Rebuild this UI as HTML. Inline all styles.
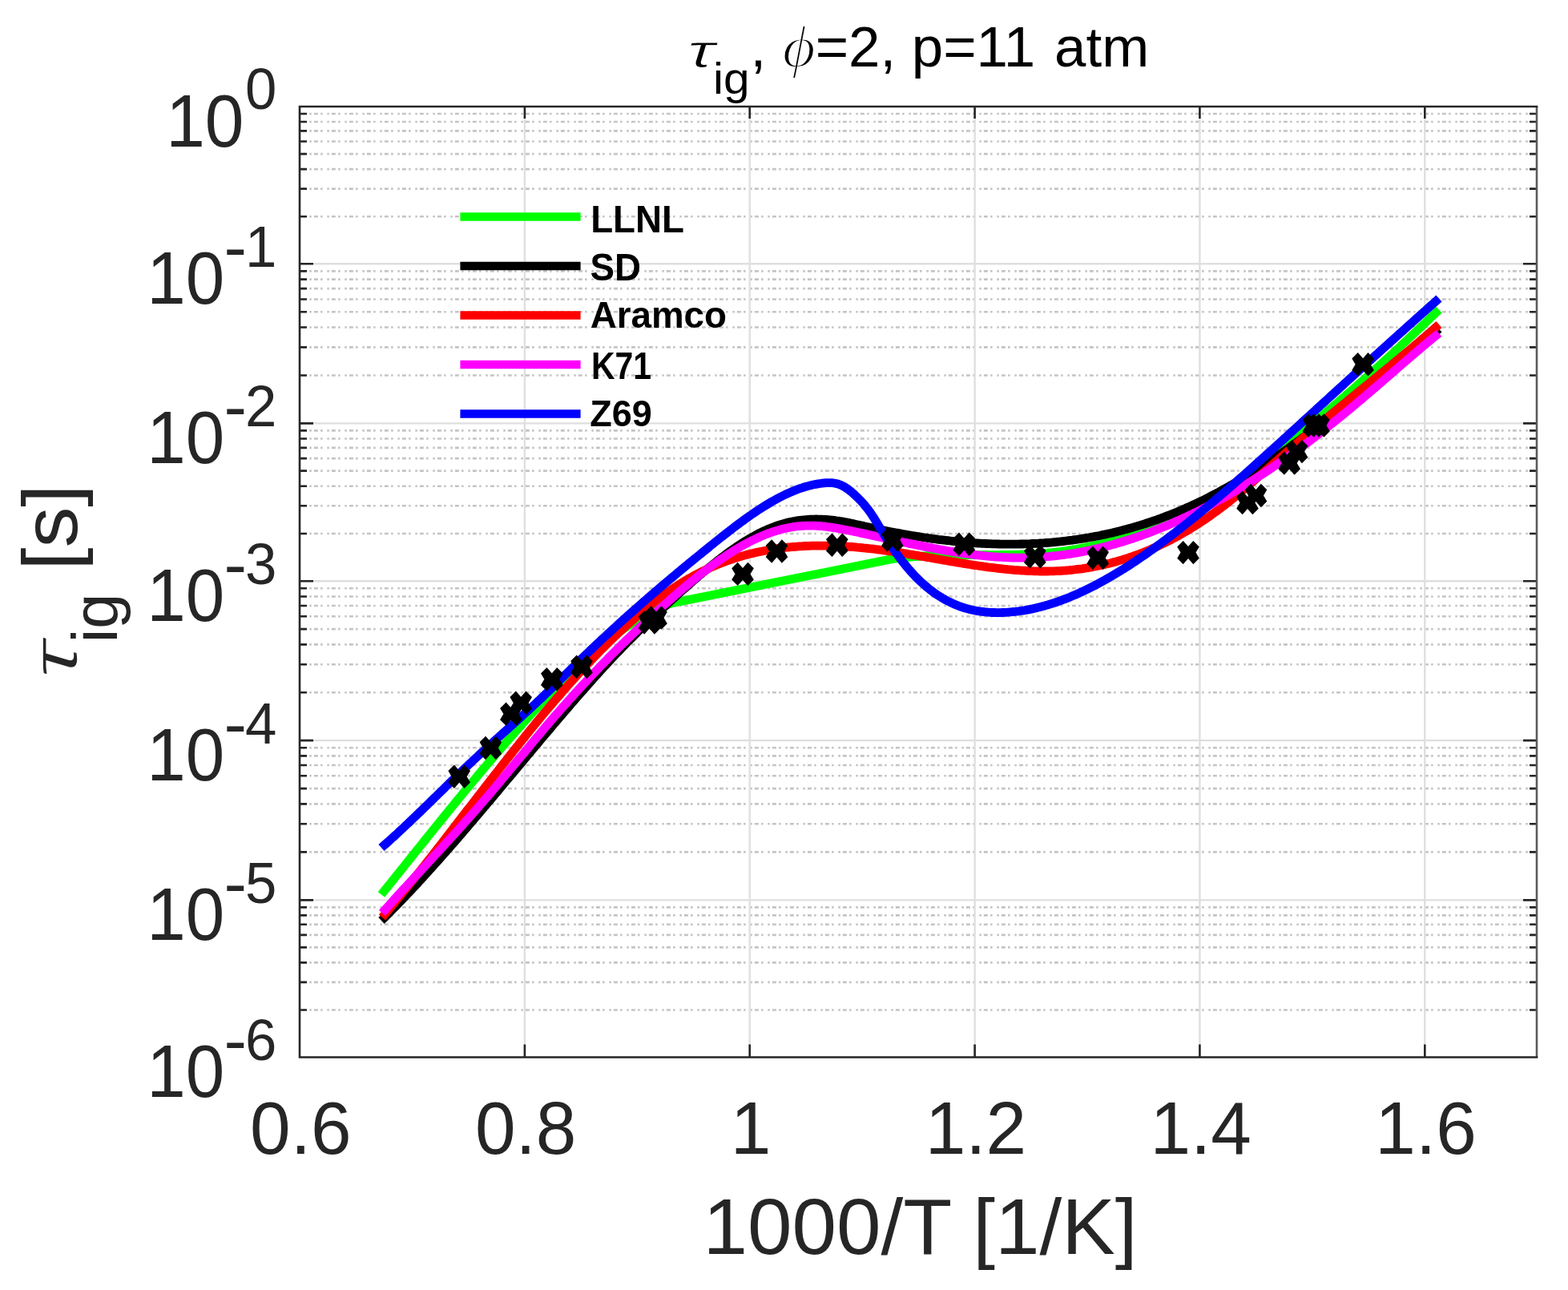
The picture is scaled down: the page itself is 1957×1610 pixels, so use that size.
<!DOCTYPE html><html><head><meta charset="utf-8"><style>html,body{margin:0;padding:0;background:#fff;overflow:hidden}svg{display:block}text{font-family:"Liberation Sans",Arial,sans-serif}</style></head><body><svg width="1957" height="1610" viewBox="0 0 1957 1610"><rect width="1957" height="1610" fill="#fff"/><g stroke="#c4c4c4" stroke-width="2.6" stroke-dasharray="2.5 3.1 4.9 3.3 2.5 5.7" stroke-dashoffset="9.7"><line x1="374" y1="1260.5" x2="1918" y2="1260.5"/><line x1="374" y1="1225.9" x2="1918" y2="1225.9"/><line x1="374" y1="1201.4" x2="1918" y2="1201.4"/><line x1="374" y1="1182.4" x2="1918" y2="1182.4"/><line x1="374" y1="1166.9" x2="1918" y2="1166.9"/><line x1="374" y1="1153.8" x2="1918" y2="1153.8"/><line x1="374" y1="1142.4" x2="1918" y2="1142.4"/><line x1="374" y1="1132.4" x2="1918" y2="1132.4"/><line x1="374" y1="1063.4" x2="1918" y2="1063.4"/><line x1="374" y1="1028.3" x2="1918" y2="1028.3"/><line x1="374" y1="1003.4" x2="1918" y2="1003.4"/><line x1="374" y1="984.1" x2="1918" y2="984.1"/><line x1="374" y1="968.3" x2="1918" y2="968.3"/><line x1="374" y1="955.0" x2="1918" y2="955.0"/><line x1="374" y1="943.4" x2="1918" y2="943.4"/><line x1="374" y1="933.2" x2="1918" y2="933.2"/><line x1="374" y1="864.2" x2="1918" y2="864.2"/><line x1="374" y1="829.2" x2="1918" y2="829.2"/><line x1="374" y1="804.4" x2="1918" y2="804.4"/><line x1="374" y1="785.1" x2="1918" y2="785.1"/><line x1="374" y1="769.3" x2="1918" y2="769.3"/><line x1="374" y1="756.0" x2="1918" y2="756.0"/><line x1="374" y1="744.5" x2="1918" y2="744.5"/><line x1="374" y1="734.3" x2="1918" y2="734.3"/><line x1="374" y1="666.0" x2="1918" y2="666.0"/><line x1="374" y1="631.3" x2="1918" y2="631.3"/><line x1="374" y1="606.7" x2="1918" y2="606.7"/><line x1="374" y1="587.6" x2="1918" y2="587.6"/><line x1="374" y1="572.1" x2="1918" y2="572.1"/><line x1="374" y1="558.9" x2="1918" y2="558.9"/><line x1="374" y1="547.5" x2="1918" y2="547.5"/><line x1="374" y1="537.4" x2="1918" y2="537.4"/><line x1="374" y1="468.5" x2="1918" y2="468.5"/><line x1="374" y1="433.4" x2="1918" y2="433.4"/><line x1="374" y1="408.5" x2="1918" y2="408.5"/><line x1="374" y1="389.2" x2="1918" y2="389.2"/><line x1="374" y1="373.5" x2="1918" y2="373.5"/><line x1="374" y1="360.1" x2="1918" y2="360.1"/><line x1="374" y1="348.6" x2="1918" y2="348.6"/><line x1="374" y1="338.4" x2="1918" y2="338.4"/><line x1="374" y1="270.2" x2="1918" y2="270.2"/><line x1="374" y1="235.6" x2="1918" y2="235.6"/><line x1="374" y1="211.1" x2="1918" y2="211.1"/><line x1="374" y1="192.1" x2="1918" y2="192.1"/><line x1="374" y1="176.5" x2="1918" y2="176.5"/><line x1="374" y1="163.4" x2="1918" y2="163.4"/><line x1="374" y1="152.0" x2="1918" y2="152.0"/><line x1="374" y1="142.0" x2="1918" y2="142.0"/></g><g stroke="#dfdfdf" stroke-width="2.4"><line x1="374" y1="1123.4" x2="1918" y2="1123.4"/><line x1="374" y1="924.1" x2="1918" y2="924.1"/><line x1="374" y1="725.2" x2="1918" y2="725.2"/><line x1="374" y1="528.4" x2="1918" y2="528.4"/><line x1="374" y1="329.3" x2="1918" y2="329.3"/><line x1="654.9" y1="133" x2="654.9" y2="1319.5"/><line x1="935.7" y1="133" x2="935.7" y2="1319.5"/><line x1="1216.6" y1="133" x2="1216.6" y2="1319.5"/><line x1="1497.4" y1="133" x2="1497.4" y2="1319.5"/><line x1="1778.3" y1="133" x2="1778.3" y2="1319.5"/></g><path d="M476.0,1116.5 478.5,1113.3 481.0,1110.2 483.5,1107.1 486.1,1103.9 488.6,1100.8 491.1,1097.7 493.6,1094.5 496.1,1091.4 498.6,1088.3 501.1,1085.1 503.7,1082.0 506.2,1078.8 508.7,1075.7 511.2,1072.6 513.7,1069.4 516.2,1066.3 518.7,1063.2 521.2,1060.0 523.8,1056.9 526.3,1053.8 528.8,1050.6 531.3,1047.5 533.8,1044.4 536.3,1041.3 538.8,1038.2 541.4,1035.0 543.9,1031.9 546.4,1028.8 548.9,1025.7 551.4,1022.6 553.9,1019.5 556.4,1016.4 559.0,1013.3 561.5,1010.2 564.0,1007.1 566.5,1004.1 569.0,1001.0 571.5,997.9 574.0,994.9 576.6,991.8 579.1,988.7 581.6,985.7 584.1,982.7 586.6,979.6 589.1,976.6 591.6,973.6 594.2,970.6 596.7,967.5 599.2,964.5 601.7,961.6 604.2,958.6 606.7,955.6 609.2,952.6 611.8,949.6 614.3,946.7 616.8,943.7 619.3,940.8 621.8,937.9 624.3,935.0 626.8,932.0 629.3,929.1 631.9,926.3 634.4,923.4 636.9,920.5 639.4,917.6 641.9,914.8 644.4,911.9 646.9,909.1 649.5,906.3 652.0,903.5 654.5,900.7 657.0,897.9 659.5,895.1 662.0,892.4 664.5,889.6 667.1,886.9 669.6,884.2 672.1,881.5 674.6,878.8 677.1,876.1 679.6,873.4 682.1,870.8 684.7,868.2 687.2,865.6 689.7,863.0 692.2,860.4 694.7,857.8 697.2,855.3 699.7,852.8 702.2,850.3 704.8,847.8 707.3,845.3 709.8,842.9 712.3,840.4 714.8,838.0 717.3,835.6 719.8,833.3 722.4,830.9 724.9,828.6 727.4,826.3 729.9,824.0 732.4,821.8 734.9,819.5 737.4,817.3 740.0,815.1 742.5,813.0 745.0,810.8 747.5,808.7 750.0,806.6 752.5,804.6 755.0,802.5 757.6,800.5 760.1,798.5 762.6,796.6 765.1,794.6 767.6,792.7 770.1,790.8 772.6,789.0 775.2,787.2 777.7,785.4 780.2,783.6 782.7,781.9 785.2,780.2 787.7,778.5 790.2,776.9 792.8,775.3 795.3,773.7 797.8,772.2 800.3,770.7 802.8,769.3 805.3,767.8 807.8,766.4 810.3,765.1 812.9,763.8 815.4,762.5 817.9,761.3 820.4,760.1 822.9,759.0 825.4,757.8 827.9,756.8 830.5,755.8 833.0,754.8 835.5,753.8 838.0,752.9 1112.0,697.9 1114.5,697.6 1117.0,697.2 1119.5,696.9 1122.0,696.6 1124.5,696.3 1127.0,696.0 1129.5,695.8 1132.0,695.5 1134.5,695.3 1137.1,695.1 1139.6,694.9 1142.1,694.7 1144.6,694.5 1147.1,694.3 1149.6,694.2 1152.1,694.0 1154.6,693.9 1157.1,693.7 1159.6,693.6 1162.1,693.5 1164.6,693.4 1167.1,693.3 1169.6,693.2 1172.1,693.1 1174.6,693.1 1177.1,693.0 1179.6,692.9 1182.2,692.9 1184.7,692.9 1187.2,692.8 1189.7,692.8 1192.2,692.7 1194.7,692.7 1197.2,692.7 1199.7,692.7 1202.2,692.7 1204.7,692.7 1207.2,692.7 1209.7,692.7 1212.2,692.6 1214.7,692.6 1217.2,692.6 1219.7,692.6 1222.2,692.6 1224.7,692.6 1227.3,692.6 1229.8,692.6 1232.3,692.6 1234.8,692.6 1237.3,692.6 1239.8,692.6 1242.3,692.6 1244.8,692.6 1247.3,692.6 1249.8,692.5 1252.3,692.5 1254.8,692.5 1257.3,692.4 1259.8,692.4 1262.3,692.4 1264.8,692.3 1267.3,692.2 1269.8,692.2 1272.4,692.1 1274.9,692.0 1277.4,691.9 1279.9,691.8 1282.4,691.7 1284.9,691.6 1287.4,691.5 1289.9,691.3 1292.4,691.2 1294.9,691.0 1297.4,690.9 1299.9,690.7 1302.4,690.5 1304.9,690.3 1307.4,690.1 1309.9,689.8 1312.4,689.6 1314.9,689.3 1317.5,689.1 1320.0,688.8 1322.5,688.5 1325.0,688.2 1327.5,687.8 1330.0,687.5 1332.5,687.1 1335.0,686.7 1337.5,686.3 1340.0,685.9 1342.5,685.5 1345.0,685.0 1347.5,684.6 1350.0,684.1 1352.5,683.6 1355.0,683.1 1357.5,682.6 1360.0,682.1 1362.5,681.5 1365.1,680.9 1367.6,680.4 1370.1,679.8 1372.6,679.2 1375.1,678.5 1377.6,677.9 1380.1,677.2 1382.6,676.6 1385.1,675.9 1387.6,675.2 1390.1,674.5 1392.6,673.8 1395.1,673.1 1397.6,672.3 1400.1,671.6 1402.6,670.8 1405.1,670.0 1407.6,669.2 1410.2,668.4 1412.7,667.6 1415.2,666.8 1417.7,665.9 1420.2,665.1 1422.7,664.2 1425.2,663.3 1427.7,662.4 1430.2,661.5 1432.7,660.6 1435.2,659.7 1437.7,658.7 1440.2,657.8 1442.7,656.8 1445.2,655.8 1447.7,654.8 1450.2,653.8 1452.7,652.8 1455.3,651.7 1457.8,650.6 1460.3,649.6 1462.8,648.5 1465.3,647.3 1467.8,646.2 1470.3,645.0 1472.8,643.9 1475.3,642.7 1477.8,641.4 1480.3,640.2 1482.8,638.9 1485.3,637.7 1487.8,636.4 1490.3,635.0 1492.8,633.7 1495.3,632.3 1497.8,630.9 1500.4,629.5 1502.9,628.1 1505.4,626.6 1507.9,625.1 1510.4,623.6 1512.9,622.1 1515.4,620.5 1517.9,619.0 1520.4,617.4 1522.9,615.8 1525.4,614.1 1527.9,612.5 1530.4,610.8 1532.9,609.1 1535.4,607.4 1537.9,605.7 1540.4,604.0 1542.9,602.2 1545.5,600.5 1548.0,598.7 1550.5,596.9 1553.0,595.1 1555.5,593.3 1558.0,591.5 1560.5,589.6 1563.0,587.8 1565.5,585.9 1568.0,584.0 1570.5,582.2 1573.0,580.3 1575.5,578.4 1578.0,576.5 1580.5,574.6 1583.0,572.7 1585.5,570.7 1588.0,568.8 1590.5,566.9 1593.1,564.9 1595.6,563.0 1598.1,561.0 1600.6,559.0 1603.1,557.1 1605.6,555.1 1608.1,553.1 1610.6,551.1 1613.1,549.1 1615.6,547.1 1618.1,545.1 1620.6,543.1 1623.1,541.1 1625.6,539.0 1628.1,537.0 1630.6,535.0 1633.1,532.9 1635.6,530.8 1638.2,528.8 1640.7,526.7 1643.2,524.6 1645.7,522.5 1648.2,520.4 1650.7,518.4 1653.2,516.2 1655.7,514.1 1658.2,512.0 1660.7,509.9 1663.2,507.8 1665.7,505.6 1668.2,503.5 1670.7,501.3 1673.2,499.1 1675.7,497.0 1678.2,494.8 1680.7,492.6 1683.3,490.4 1685.8,488.2 1688.3,486.0 1690.8,483.8 1693.3,481.6 1695.8,479.4 1698.3,477.2 1700.8,475.0 1703.3,472.7 1705.8,470.5 1708.3,468.2 1710.8,466.0 1713.3,463.7 1715.8,461.5 1718.3,459.2 1720.8,456.9 1723.3,454.6 1725.8,452.4 1728.4,450.1 1730.9,447.8 1733.4,445.5 1735.9,443.2 1738.4,440.9 1740.9,438.5 1743.4,436.2 1745.9,433.9 1748.4,431.6 1750.9,429.2 1753.4,426.9 1755.9,424.6 1758.4,422.2 1760.9,419.8 1763.4,417.5 1765.9,415.1 1768.4,412.8 1770.9,410.4 1773.5,408.0 1776.0,405.6 1778.5,403.3 1781.0,400.9 1783.5,398.5 1786.0,396.1 1788.5,393.7 1791.0,391.3 1793.5,388.9 1796.0,386.5" fill="none" stroke="#00ff00" stroke-width="10.8" stroke-linejoin="round" stroke-linecap="butt"/><path d="M476.0,1149.0 478.5,1146.6 481.0,1144.1 483.5,1141.6 486.0,1139.1 488.5,1136.5 491.0,1134.0 493.5,1131.4 496.0,1128.9 498.5,1126.3 501.0,1123.7 503.5,1121.1 506.0,1118.5 508.5,1115.8 511.0,1113.2 513.5,1110.5 516.0,1107.8 518.5,1105.2 521.0,1102.5 523.5,1099.7 526.0,1097.0 528.5,1094.3 531.0,1091.5 533.5,1088.8 536.0,1086.0 538.5,1083.3 541.0,1080.5 543.5,1077.7 546.0,1074.9 548.5,1072.1 551.0,1069.2 553.5,1066.4 556.0,1063.6 558.5,1060.7 561.0,1057.9 563.5,1055.0 566.0,1052.1 568.5,1049.3 571.0,1046.4 573.5,1043.5 576.0,1040.6 578.5,1037.7 581.0,1034.8 583.5,1031.9 586.0,1028.9 588.5,1026.0 591.0,1023.1 593.5,1020.1 596.0,1017.2 598.5,1014.2 601.0,1011.3 603.5,1008.3 606.0,1005.4 608.5,1002.4 611.0,999.5 613.5,996.5 616.0,993.5 618.5,990.5 621.0,987.6 623.5,984.6 626.0,981.6 628.5,978.6 631.0,975.6 633.5,972.6 636.0,969.7 638.5,966.7 641.0,963.7 643.5,960.7 646.0,957.7 648.5,954.7 651.0,951.7 653.5,948.7 656.0,945.7 658.5,942.8 661.0,939.8 663.5,936.8 666.0,933.8 668.5,930.8 671.0,927.9 673.5,924.9 676.0,921.9 678.5,918.9 681.0,916.0 683.5,913.0 686.0,910.1 688.5,907.1 691.0,904.1 693.5,901.2 696.0,898.3 698.5,895.3 701.0,892.4 703.5,889.5 706.0,886.5 708.5,883.6 711.0,880.7 713.5,877.8 716.0,874.9 718.5,872.0 721.0,869.2 723.5,866.3 726.0,863.4 728.5,860.6 731.0,857.8 733.5,854.9 736.0,852.1 738.5,849.3 741.0,846.5 743.5,843.7 746.0,841.0 748.5,838.2 751.0,835.4 753.5,832.7 756.0,830.0 758.5,827.3 761.0,824.6 763.5,821.9 766.0,819.3 768.5,816.6 771.0,814.0 773.5,811.4 776.0,808.8 778.5,806.2 781.0,803.7 783.5,801.1 786.0,798.6 788.5,796.1 791.0,793.6 793.5,791.1 796.0,788.7 798.5,786.2 801.0,783.8 803.5,781.4 806.0,779.0 808.5,776.6 811.0,774.3 813.5,771.9 816.0,769.6 818.5,767.2 821.0,764.9 823.5,762.6 826.0,760.3 828.5,758.0 831.0,755.7 833.5,753.4 836.0,751.1 838.5,748.8 841.0,746.6 843.5,744.3 846.0,742.0 848.5,739.8 851.0,737.5 853.5,735.3 856.0,733.1 858.5,730.9 861.0,728.7 863.5,726.5 866.0,724.3 868.5,722.1 871.0,720.0 873.5,717.8 876.0,715.7 878.5,713.6 881.0,711.5 883.5,709.4 886.0,707.4 888.5,705.4 891.0,703.4 893.5,701.4 896.0,699.4 898.5,697.5 901.0,695.6 903.5,693.7 906.0,691.8 908.5,690.0 911.0,688.2 913.5,686.4 916.0,684.7 918.5,683.0 921.0,681.3 923.5,679.6 926.0,678.0 928.5,676.4 931.0,674.9 933.5,673.4 936.0,671.9 938.5,670.5 941.0,669.1 943.5,667.7 946.0,666.4 948.5,665.1 951.0,663.9 953.5,662.7 956.0,661.6 958.5,660.5 961.0,659.4 963.5,658.4 966.0,657.5 968.5,656.6 971.0,655.7 973.5,654.9 976.0,654.1 978.5,653.4 981.0,652.7 983.5,652.1 986.0,651.5 988.5,651.0 991.0,650.5 993.5,650.1 996.0,649.7 998.5,649.4 1001.0,649.1 1003.5,648.8 1006.0,648.6 1008.5,648.4 1011.0,648.2 1013.5,648.1 1016.0,648.1 1018.5,648.0 1021.0,648.1 1023.5,648.1 1026.0,648.2 1028.5,648.3 1031.0,648.5 1033.5,648.7 1036.0,648.9 1038.5,649.1 1041.0,649.4 1043.5,649.8 1046.0,650.1 1048.5,650.5 1051.0,650.9 1053.5,651.4 1056.0,651.8 1058.5,652.3 1061.0,652.8 1063.5,653.4 1066.0,653.9 1068.5,654.5 1071.0,655.0 1073.5,655.6 1076.0,656.1 1078.5,656.7 1081.0,657.3 1083.5,657.8 1086.0,658.4 1088.5,658.9 1091.0,659.5 1093.5,660.0 1096.0,660.5 1098.5,661.0 1101.0,661.6 1103.5,662.1 1106.0,662.6 1108.5,663.1 1111.0,663.6 1113.5,664.0 1116.0,664.5 1118.5,665.0 1121.0,665.4 1123.5,665.9 1126.0,666.4 1128.5,666.8 1131.0,667.2 1133.5,667.7 1136.0,668.1 1138.5,668.5 1141.0,668.9 1143.5,669.3 1146.0,669.7 1148.5,670.1 1151.0,670.5 1153.5,670.9 1156.0,671.2 1158.5,671.6 1161.0,671.9 1163.5,672.3 1166.0,672.6 1168.5,672.9 1171.0,673.3 1173.5,673.6 1176.0,673.9 1178.5,674.2 1181.0,674.5 1183.5,674.7 1186.0,675.0 1188.5,675.3 1191.0,675.5 1193.5,675.8 1196.0,676.0 1198.5,676.3 1201.0,676.5 1203.5,676.7 1206.0,676.9 1208.5,677.1 1211.0,677.3 1213.5,677.5 1216.0,677.7 1218.5,677.8 1221.0,678.0 1223.5,678.1 1226.0,678.3 1228.5,678.4 1231.0,678.5 1233.5,678.6 1236.0,678.7 1238.5,678.8 1241.0,678.9 1243.5,678.9 1246.0,679.0 1248.5,679.1 1251.0,679.1 1253.5,679.1 1256.0,679.2 1258.5,679.2 1261.0,679.2 1263.5,679.2 1266.0,679.2 1268.5,679.1 1271.0,679.1 1273.5,679.0 1276.0,679.0 1278.5,678.9 1281.0,678.8 1283.5,678.8 1286.0,678.7 1288.5,678.5 1291.0,678.4 1293.5,678.3 1296.0,678.2 1298.5,678.0 1301.0,677.8 1303.5,677.7 1306.0,677.5 1308.5,677.3 1311.0,677.1 1313.5,676.9 1316.0,676.6 1318.5,676.4 1321.0,676.1 1323.5,675.9 1326.0,675.6 1328.5,675.3 1331.0,675.0 1333.5,674.7 1336.0,674.4 1338.5,674.1 1341.0,673.7 1343.5,673.4 1346.0,673.0 1348.5,672.6 1351.0,672.2 1353.5,671.8 1356.0,671.4 1358.5,671.0 1361.0,670.5 1363.5,670.1 1366.0,669.6 1368.5,669.2 1371.0,668.7 1373.5,668.2 1376.0,667.6 1378.5,667.1 1381.0,666.6 1383.5,666.0 1386.0,665.5 1388.5,664.9 1391.0,664.3 1393.5,663.7 1396.0,663.1 1398.5,662.4 1401.0,661.8 1403.5,661.1 1406.0,660.5 1408.5,659.8 1411.0,659.1 1413.5,658.4 1416.0,657.6 1418.5,656.9 1421.0,656.1 1423.5,655.4 1426.0,654.6 1428.5,653.8 1431.0,653.0 1433.5,652.2 1436.0,651.3 1438.5,650.5 1441.0,649.6 1443.5,648.8 1446.0,647.9 1448.5,647.0 1451.0,646.0 1453.5,645.1 1456.0,644.1 1458.5,643.2 1461.0,642.2 1463.5,641.2 1466.0,640.2 1468.5,639.2 1471.0,638.1 1473.5,637.1 1476.0,636.0 1478.5,634.9 1481.0,633.8 1483.5,632.7 1486.0,631.6 1488.5,630.4 1491.0,629.3 1493.5,628.1 1496.0,626.9 1498.5,625.7 1501.0,624.5 1503.5,623.3 1506.0,622.0 1508.5,620.7 1511.0,619.4 1513.5,618.1 1516.0,616.8 1518.5,615.5 1521.0,614.2 1523.5,612.8 1526.0,611.4 1528.5,610.0 1531.0,608.6 1533.5,607.2 1536.0,605.8 1538.5,604.4 1541.0,602.9 1543.5,601.4 1546.0,600.0 1548.5,598.5 1551.0,597.0 1553.5,595.4 1556.0,593.9 1558.5,592.4 1561.0,590.8 1563.5,589.2 1566.0,587.7 1568.5,586.1 1571.0,584.5 1573.5,582.9 1576.0,581.2 1578.5,579.6 1581.0,577.9 1583.5,576.3 1586.0,574.6 1588.5,572.9 1591.0,571.2 1593.5,569.5 1596.0,567.8 1598.5,566.1 1601.0,564.4 1603.5,562.6 1606.0,560.9 1608.5,559.1 1611.0,557.3 1613.5,555.6 1616.0,553.8 1618.5,552.0 1621.0,550.2 1623.5,548.3 1626.0,546.5 1628.5,544.7 1631.0,542.8 1633.5,541.0 1636.0,539.1 1638.5,537.3 1641.0,535.4 1643.5,533.5 1646.0,531.6 1648.5,529.7 1651.0,527.8 1653.5,525.9 1656.0,524.0 1658.5,522.1 1661.0,520.2 1663.5,518.2 1666.0,516.3 1668.5,514.3 1671.0,512.4 1673.5,510.4 1676.0,508.5 1678.5,506.5 1681.0,504.5 1683.5,502.5 1686.0,500.6 1688.5,498.6 1691.0,496.6 1693.5,494.6 1696.0,492.6 1698.5,490.6 1701.0,488.6 1703.5,486.5 1706.0,484.5 1708.5,482.5 1711.0,480.5 1713.5,478.4 1716.0,476.4 1718.5,474.4 1721.0,472.3 1723.5,470.3 1726.0,468.2 1728.5,466.2 1731.0,464.1 1733.5,462.1 1736.0,460.0 1738.5,458.0 1741.0,455.9 1743.5,453.9 1746.0,451.8 1748.5,449.7 1751.0,447.7 1753.5,445.6 1756.0,443.5 1758.5,441.5 1761.0,439.4 1763.5,437.3 1766.0,435.3 1768.5,433.2 1771.0,431.1 1773.5,429.0 1776.0,427.0 1778.5,424.9 1781.0,422.8 1783.5,420.8 1786.0,418.7 1788.5,416.6 1791.0,414.6 1793.5,412.5 1796.0,410.4" fill="none" stroke="#000000" stroke-width="10.8" stroke-linejoin="round" stroke-linecap="butt"/><path d="M477.0,1145.0 479.5,1142.0 482.0,1139.0 484.5,1136.0 487.0,1133.0 489.5,1130.0 492.0,1127.0 494.5,1123.9 497.0,1120.9 499.5,1117.8 502.0,1114.7 504.5,1111.6 507.0,1108.5 509.5,1105.4 512.0,1102.3 514.5,1099.2 517.0,1096.1 519.5,1092.9 522.1,1089.8 524.6,1086.6 527.1,1083.4 529.6,1080.3 532.1,1077.1 534.6,1073.9 537.1,1070.7 539.6,1067.5 542.1,1064.3 544.6,1061.1 547.1,1057.9 549.6,1054.7 552.1,1051.5 554.6,1048.3 557.1,1045.0 559.6,1041.8 562.1,1038.6 564.6,1035.3 567.1,1032.1 569.6,1028.9 572.1,1025.6 574.6,1022.4 577.1,1019.1 579.6,1015.9 582.1,1012.6 584.6,1009.4 587.1,1006.2 589.6,1002.9 592.1,999.7 594.6,996.4 597.1,993.2 599.6,990.0 602.1,986.7 604.6,983.5 607.1,980.3 609.7,977.1 612.2,973.8 614.7,970.6 617.2,967.4 619.7,964.2 622.2,961.0 624.7,957.8 627.2,954.6 629.7,951.4 632.2,948.2 634.7,945.1 637.2,941.9 639.7,938.7 642.2,935.6 644.7,932.4 647.2,929.3 649.7,926.2 652.2,923.1 654.7,920.0 657.2,916.9 659.7,913.8 662.2,910.7 664.7,907.6 667.2,904.6 669.7,901.5 672.2,898.5 674.7,895.4 677.2,892.4 679.7,889.4 682.2,886.4 684.7,883.5 687.2,880.5 689.7,877.6 692.2,874.6 694.7,871.7 697.3,868.8 699.8,865.9 702.3,863.0 704.8,860.2 707.3,857.3 709.8,854.5 712.3,851.7 714.8,848.9 717.3,846.1 719.8,843.3 722.3,840.6 724.8,837.9 727.3,835.2 729.8,832.5 732.3,829.8 734.8,827.2 737.3,824.5 739.8,821.9 742.3,819.3 744.8,816.7 747.3,814.2 749.8,811.6 752.3,809.1 754.8,806.6 757.3,804.1 759.8,801.6 762.3,799.2 764.8,796.8 767.3,794.4 769.8,792.0 772.3,789.6 774.8,787.3 777.3,785.0 779.8,782.7 782.3,780.4 784.9,778.1 787.4,775.9 789.9,773.7 792.4,771.5 794.9,769.3 797.4,767.2 799.9,765.1 802.4,763.0 804.9,760.9 807.4,758.8 809.9,756.8 812.4,754.8 814.9,752.8 817.4,750.9 819.9,748.9 822.4,747.0 824.9,745.2 827.4,743.3 829.9,741.5 832.4,739.7 834.9,737.9 837.4,736.2 839.9,734.5 842.4,732.8 844.9,731.2 847.4,729.6 849.9,728.0 852.4,726.5 854.9,724.9 857.4,723.5 859.9,722.0 862.4,720.6 864.9,719.2 867.4,717.8 869.9,716.5 872.4,715.2 875.0,713.9 877.5,712.7 880.0,711.5 882.5,710.3 885.0,709.2 887.5,708.0 890.0,706.9 892.5,705.9 895.0,704.8 897.5,703.8 900.0,702.8 902.5,701.8 905.0,700.9 907.5,700.0 910.0,699.1 912.5,698.3 915.0,697.4 917.5,696.6 920.0,695.8 922.5,695.1 925.0,694.3 927.5,693.6 930.0,692.9 932.5,692.2 935.0,691.6 937.5,691.0 940.0,690.4 942.5,689.8 945.0,689.2 947.5,688.7 950.0,688.2 952.5,687.7 955.0,687.2 957.5,686.7 960.0,686.3 962.6,685.9 965.1,685.5 967.6,685.1 970.1,684.7 972.6,684.4 975.1,684.1 977.6,683.8 980.1,683.5 982.6,683.2 985.1,683.0 987.6,682.7 990.1,682.5 992.6,682.3 995.1,682.1 997.6,681.9 1000.1,681.8 1002.6,681.6 1005.1,681.5 1007.6,681.4 1010.1,681.3 1012.6,681.2 1015.1,681.2 1017.6,681.1 1020.1,681.1 1022.6,681.1 1025.1,681.1 1027.6,681.1 1030.1,681.1 1032.6,681.1 1035.1,681.2 1037.6,681.2 1040.1,681.3 1042.6,681.4 1045.1,681.5 1047.6,681.6 1050.2,681.7 1052.7,681.9 1055.2,682.0 1057.7,682.2 1060.2,682.4 1062.7,682.5 1065.2,682.7 1067.7,682.9 1070.2,683.2 1072.7,683.4 1075.2,683.6 1077.7,683.9 1080.2,684.1 1082.7,684.4 1085.2,684.7 1087.7,684.9 1090.2,685.2 1092.7,685.5 1095.2,685.8 1097.7,686.2 1100.2,686.5 1102.7,686.8 1105.2,687.2 1107.7,687.5 1110.2,687.9 1112.7,688.2 1115.2,688.6 1117.7,689.0 1120.2,689.4 1122.7,689.7 1125.2,690.1 1127.7,690.5 1130.2,690.9 1132.7,691.3 1135.2,691.8 1137.8,692.2 1140.3,692.6 1142.8,693.0 1145.3,693.4 1147.8,693.9 1150.3,694.3 1152.8,694.7 1155.3,695.1 1157.8,695.6 1160.3,696.0 1162.8,696.4 1165.3,696.9 1167.8,697.3 1170.3,697.8 1172.8,698.2 1175.3,698.6 1177.8,699.1 1180.3,699.5 1182.8,699.9 1185.3,700.4 1187.8,700.8 1190.3,701.2 1192.8,701.6 1195.3,702.1 1197.8,702.5 1200.3,702.9 1202.8,703.3 1205.3,703.7 1207.8,704.1 1210.3,704.5 1212.8,704.9 1215.3,705.3 1217.8,705.6 1220.3,706.0 1222.8,706.4 1225.4,706.7 1227.9,707.1 1230.4,707.4 1232.9,707.8 1235.4,708.1 1237.9,708.4 1240.4,708.7 1242.9,709.0 1245.4,709.3 1247.9,709.6 1250.4,709.9 1252.9,710.2 1255.4,710.4 1257.9,710.7 1260.4,710.9 1262.9,711.1 1265.4,711.4 1267.9,711.6 1270.4,711.7 1272.9,711.9 1275.4,712.1 1277.9,712.2 1280.4,712.4 1282.9,712.5 1285.4,712.6 1287.9,712.7 1290.4,712.8 1292.9,712.9 1295.4,712.9 1297.9,713.0 1300.4,713.0 1302.9,713.0 1305.4,713.0 1307.9,713.0 1310.4,712.9 1313.0,712.9 1315.5,712.8 1318.0,712.7 1320.5,712.6 1323.0,712.5 1325.5,712.3 1328.0,712.1 1330.5,712.0 1333.0,711.8 1335.5,711.5 1338.0,711.3 1340.5,711.0 1343.0,710.7 1345.5,710.4 1348.0,710.1 1350.5,709.8 1353.0,709.4 1355.5,709.0 1358.0,708.6 1360.5,708.2 1363.0,707.8 1365.5,707.3 1368.0,706.8 1370.5,706.3 1373.0,705.8 1375.5,705.2 1378.0,704.7 1380.5,704.1 1383.0,703.5 1385.5,702.9 1388.0,702.2 1390.5,701.5 1393.0,700.9 1395.5,700.1 1398.0,699.4 1400.6,698.7 1403.1,697.9 1405.6,697.1 1408.1,696.3 1410.6,695.4 1413.1,694.6 1415.6,693.7 1418.1,692.8 1420.6,691.9 1423.1,690.9 1425.6,690.0 1428.1,689.0 1430.6,687.9 1433.1,686.9 1435.6,685.9 1438.1,684.8 1440.6,683.7 1443.1,682.6 1445.6,681.4 1448.1,680.2 1450.6,679.0 1453.1,677.8 1455.6,676.6 1458.1,675.3 1460.6,674.1 1463.1,672.8 1465.6,671.4 1468.1,670.1 1470.6,668.7 1473.1,667.3 1475.6,665.9 1478.1,664.4 1480.6,663.0 1483.1,661.5 1485.6,660.0 1488.1,658.4 1490.7,656.9 1493.2,655.3 1495.7,653.7 1498.2,652.0 1500.7,650.4 1503.2,648.7 1505.7,647.0 1508.2,645.3 1510.7,643.5 1513.2,641.7 1515.7,639.9 1518.2,638.1 1520.7,636.3 1523.2,634.4 1525.7,632.5 1528.2,630.6 1530.7,628.7 1533.2,626.7 1535.7,624.7 1538.2,622.7 1540.7,620.7 1543.2,618.6 1545.7,616.5 1548.2,614.4 1550.7,612.3 1553.2,610.2 1555.7,608.1 1558.2,605.9 1560.7,603.7 1563.2,601.6 1565.7,599.4 1568.2,597.2 1570.7,595.0 1573.2,592.8 1575.7,590.6 1578.3,588.4 1580.8,586.2 1583.3,584.0 1585.8,581.8 1588.3,579.6 1590.8,577.4 1593.3,575.2 1595.8,573.0 1598.3,570.9 1600.8,568.7 1603.3,566.5 1605.8,564.3 1608.3,562.2 1610.8,560.0 1613.3,557.9 1615.8,555.7 1618.3,553.6 1620.8,551.4 1623.3,549.3 1625.8,547.1 1628.3,545.0 1630.8,542.8 1633.3,540.7 1635.8,538.6 1638.3,536.5 1640.8,534.4 1643.3,532.2 1645.8,530.1 1648.3,528.0 1650.8,525.9 1653.3,523.8 1655.8,521.7 1658.3,519.7 1660.8,517.6 1663.3,515.5 1665.9,513.4 1668.4,511.4 1670.9,509.3 1673.4,507.2 1675.9,505.2 1678.4,503.1 1680.9,501.1 1683.4,499.0 1685.9,497.0 1688.4,494.9 1690.9,492.9 1693.4,490.8 1695.9,488.8 1698.4,486.8 1700.9,484.7 1703.4,482.7 1705.9,480.6 1708.4,478.6 1710.9,476.6 1713.4,474.5 1715.9,472.5 1718.4,470.4 1720.9,468.4 1723.4,466.3 1725.9,464.3 1728.4,462.2 1730.9,460.2 1733.4,458.1 1735.9,456.1 1738.4,454.0 1740.9,451.9 1743.4,449.9 1745.9,447.8 1748.4,445.7 1750.9,443.6 1753.5,441.5 1756.0,439.4 1758.5,437.3 1761.0,435.2 1763.5,433.1 1766.0,431.0 1768.5,428.9 1771.0,426.7 1773.5,424.6 1776.0,422.4 1778.5,420.3 1781.0,418.1 1783.5,416.0 1786.0,413.8 1788.5,411.6 1791.0,409.4 1793.5,407.2 1796.0,405.0" fill="none" stroke="#ff0000" stroke-width="10.8" stroke-linejoin="round" stroke-linecap="butt"/><path d="M477.0,1139.5 479.5,1136.7 482.0,1133.9 484.5,1131.1 487.0,1128.3 489.5,1125.5 492.0,1122.7 494.5,1120.0 497.0,1117.2 499.5,1114.5 502.0,1111.7 504.5,1109.0 507.0,1106.3 509.5,1103.5 512.0,1100.8 514.5,1098.1 517.0,1095.4 519.5,1092.6 522.1,1089.9 524.6,1087.2 527.1,1084.5 529.6,1081.8 532.1,1079.1 534.6,1076.4 537.1,1073.7 539.6,1070.9 542.1,1068.2 544.6,1065.5 547.1,1062.8 549.6,1060.1 552.1,1057.4 554.6,1054.6 557.1,1051.9 559.6,1049.1 562.1,1046.4 564.6,1043.7 567.1,1040.9 569.6,1038.1 572.1,1035.4 574.6,1032.6 577.1,1029.8 579.6,1027.0 582.1,1024.2 584.6,1021.4 587.1,1018.6 589.6,1015.7 592.1,1012.9 594.6,1010.0 597.1,1007.2 599.6,1004.3 602.1,1001.4 604.6,998.5 607.1,995.6 609.7,992.7 612.2,989.7 614.7,986.8 617.2,983.8 619.7,980.8 622.2,977.9 624.7,974.9 627.2,971.9 629.7,968.9 632.2,965.9 634.7,962.8 637.2,959.8 639.7,956.8 642.2,953.8 644.7,950.8 647.2,947.7 649.7,944.7 652.2,941.7 654.7,938.7 657.2,935.7 659.7,932.7 662.2,929.6 664.7,926.6 667.2,923.6 669.7,920.6 672.2,917.7 674.7,914.7 677.2,911.7 679.7,908.8 682.2,905.8 684.7,902.9 687.2,900.0 689.7,897.0 692.2,894.2 694.7,891.3 697.3,888.4 699.8,885.5 702.3,882.7 704.8,879.9 707.3,877.1 709.8,874.2 712.3,871.5 714.8,868.7 717.3,865.9 719.8,863.2 722.3,860.4 724.8,857.7 727.3,855.0 729.8,852.3 732.3,849.6 734.8,846.9 737.3,844.3 739.8,841.6 742.3,839.0 744.8,836.3 747.3,833.7 749.8,831.1 752.3,828.5 754.8,826.0 757.3,823.4 759.8,820.8 762.3,818.3 764.8,815.8 767.3,813.3 769.8,810.8 772.3,808.3 774.8,805.8 777.3,803.3 779.8,800.9 782.3,798.4 784.9,796.0 787.4,793.6 789.9,791.2 792.4,788.8 794.9,786.4 797.4,784.0 799.9,781.7 802.4,779.3 804.9,777.0 807.4,774.6 809.9,772.3 812.4,770.0 814.9,767.7 817.4,765.5 819.9,763.2 822.4,760.9 824.9,758.7 827.4,756.4 829.9,754.2 832.4,752.0 834.9,749.8 837.4,747.6 839.9,745.4 842.4,743.2 844.9,741.1 847.4,738.9 849.9,736.8 852.4,734.7 854.9,732.6 857.4,730.5 859.9,728.4 862.4,726.3 864.9,724.3 867.4,722.3 869.9,720.3 872.4,718.3 875.0,716.3 877.5,714.3 880.0,712.4 882.5,710.5 885.0,708.6 887.5,706.8 890.0,704.9 892.5,703.1 895.0,701.3 897.5,699.5 900.0,697.8 902.5,696.1 905.0,694.4 907.5,692.7 910.0,691.1 912.5,689.5 915.0,687.9 917.5,686.4 920.0,684.9 922.5,683.4 925.0,681.9 927.5,680.5 930.0,679.1 932.5,677.8 935.0,676.5 937.5,675.2 940.0,674.0 942.5,672.8 945.0,671.6 947.5,670.5 950.0,669.4 952.5,668.3 955.0,667.3 957.5,666.3 960.0,665.4 962.6,664.5 965.1,663.7 967.6,662.9 970.1,662.1 972.6,661.4 975.1,660.7 977.6,660.1 980.1,659.5 982.6,659.0 985.1,658.5 987.6,658.0 990.1,657.6 992.6,657.2 995.1,656.9 997.6,656.7 1000.1,656.5 1002.6,656.3 1005.1,656.2 1007.6,656.1 1010.1,656.1 1012.6,656.1 1015.1,656.1 1017.6,656.2 1020.1,656.4 1022.6,656.5 1025.1,656.7 1027.6,657.0 1030.1,657.2 1032.6,657.5 1035.1,657.9 1037.6,658.2 1040.1,658.6 1042.6,659.0 1045.1,659.4 1047.6,659.8 1050.2,660.3 1052.7,660.7 1055.2,661.2 1057.7,661.7 1060.2,662.2 1062.7,662.7 1065.2,663.2 1067.7,663.8 1070.2,664.3 1072.7,664.8 1075.2,665.4 1077.7,665.9 1080.2,666.4 1082.7,667.0 1085.2,667.5 1087.7,668.1 1090.2,668.6 1092.7,669.2 1095.2,669.7 1097.7,670.3 1100.2,670.8 1102.7,671.4 1105.2,671.9 1107.7,672.4 1110.2,673.0 1112.7,673.5 1115.2,674.1 1117.7,674.6 1120.2,675.2 1122.7,675.7 1125.2,676.2 1127.7,676.8 1130.2,677.3 1132.7,677.8 1135.2,678.4 1137.8,678.9 1140.3,679.4 1142.8,679.9 1145.3,680.4 1147.8,680.9 1150.3,681.4 1152.8,681.9 1155.3,682.4 1157.8,682.9 1160.3,683.4 1162.8,683.9 1165.3,684.4 1167.8,684.8 1170.3,685.3 1172.8,685.8 1175.3,686.2 1177.8,686.6 1180.3,687.1 1182.8,687.5 1185.3,687.9 1187.8,688.3 1190.3,688.7 1192.8,689.1 1195.3,689.5 1197.8,689.9 1200.3,690.3 1202.8,690.6 1205.3,691.0 1207.8,691.3 1210.3,691.6 1212.8,692.0 1215.3,692.3 1217.8,692.6 1220.3,692.9 1222.8,693.2 1225.4,693.4 1227.9,693.7 1230.4,693.9 1232.9,694.2 1235.4,694.4 1237.9,694.6 1240.4,694.8 1242.9,695.0 1245.4,695.1 1247.9,695.3 1250.4,695.4 1252.9,695.6 1255.4,695.7 1257.9,695.8 1260.4,695.9 1262.9,696.0 1265.4,696.0 1267.9,696.1 1270.4,696.1 1272.9,696.1 1275.4,696.1 1277.9,696.1 1280.4,696.1 1282.9,696.0 1285.4,695.9 1287.9,695.9 1290.4,695.8 1292.9,695.6 1295.4,695.5 1297.9,695.4 1300.4,695.2 1302.9,695.0 1305.4,694.8 1307.9,694.6 1310.4,694.4 1313.0,694.2 1315.5,693.9 1318.0,693.6 1320.5,693.3 1323.0,693.0 1325.5,692.7 1328.0,692.4 1330.5,692.0 1333.0,691.7 1335.5,691.3 1338.0,690.9 1340.5,690.5 1343.0,690.1 1345.5,689.6 1348.0,689.2 1350.5,688.7 1353.0,688.2 1355.5,687.7 1358.0,687.2 1360.5,686.7 1363.0,686.1 1365.5,685.6 1368.0,685.0 1370.5,684.4 1373.0,683.8 1375.5,683.2 1378.0,682.6 1380.5,681.9 1383.0,681.3 1385.5,680.6 1388.0,679.9 1390.5,679.2 1393.0,678.5 1395.5,677.8 1398.0,677.0 1400.6,676.3 1403.1,675.5 1405.6,674.7 1408.1,673.9 1410.6,673.1 1413.1,672.3 1415.6,671.4 1418.1,670.6 1420.6,669.7 1423.1,668.8 1425.6,667.9 1428.1,667.0 1430.6,666.1 1433.1,665.2 1435.6,664.2 1438.1,663.3 1440.6,662.3 1443.1,661.3 1445.6,660.3 1448.1,659.3 1450.6,658.3 1453.1,657.3 1455.6,656.2 1458.1,655.2 1460.6,654.1 1463.1,653.0 1465.6,651.9 1468.1,650.8 1470.6,649.7 1473.1,648.5 1475.6,647.4 1478.1,646.2 1480.6,645.1 1483.1,643.9 1485.6,642.7 1488.1,641.5 1490.7,640.2 1493.2,639.0 1495.7,637.8 1498.2,636.5 1500.7,635.2 1503.2,633.9 1505.7,632.7 1508.2,631.3 1510.7,630.0 1513.2,628.7 1515.7,627.4 1518.2,626.0 1520.7,624.6 1523.2,623.3 1525.7,621.9 1528.2,620.5 1530.7,619.0 1533.2,617.6 1535.7,616.2 1538.2,614.7 1540.7,613.3 1543.2,611.8 1545.7,610.3 1548.2,608.8 1550.7,607.3 1553.2,605.8 1555.7,604.3 1558.2,602.7 1560.7,601.2 1563.2,599.6 1565.7,598.0 1568.2,596.4 1570.7,594.8 1573.2,593.2 1575.7,591.6 1578.3,590.0 1580.8,588.3 1583.3,586.7 1585.8,585.0 1588.3,583.3 1590.8,581.6 1593.3,579.9 1595.8,578.2 1598.3,576.5 1600.8,574.8 1603.3,573.0 1605.8,571.3 1608.3,569.5 1610.8,567.7 1613.3,565.9 1615.8,564.1 1618.3,562.3 1620.8,560.5 1623.3,558.7 1625.8,556.8 1628.3,555.0 1630.8,553.1 1633.3,551.3 1635.8,549.4 1638.3,547.5 1640.8,545.6 1643.3,543.6 1645.8,541.7 1648.3,539.8 1650.8,537.8 1653.3,535.9 1655.8,533.9 1658.3,531.9 1660.8,529.9 1663.3,527.9 1665.9,525.9 1668.4,523.9 1670.9,521.9 1673.4,519.8 1675.9,517.8 1678.4,515.7 1680.9,513.7 1683.4,511.6 1685.9,509.5 1688.4,507.4 1690.9,505.3 1693.4,503.2 1695.9,501.1 1698.4,499.0 1700.9,496.9 1703.4,494.8 1705.9,492.6 1708.4,490.5 1710.9,488.4 1713.4,486.2 1715.9,484.1 1718.4,481.9 1720.9,479.8 1723.4,477.6 1725.9,475.4 1728.4,473.3 1730.9,471.1 1733.4,468.9 1735.9,466.8 1738.4,464.6 1740.9,462.4 1743.4,460.2 1745.9,458.0 1748.4,455.9 1750.9,453.7 1753.5,451.5 1756.0,449.4 1758.5,447.2 1761.0,445.0 1763.5,442.9 1766.0,440.7 1768.5,438.6 1771.0,436.5 1773.5,434.4 1776.0,432.2 1778.5,430.1 1781.0,428.1 1783.5,426.0 1786.0,423.9 1788.5,421.9 1791.0,419.9 1793.5,417.9 1796.0,415.9" fill="none" stroke="#ff00ff" stroke-width="10.8" stroke-linejoin="round" stroke-linecap="butt"/><path d="M476.0,1058.0 478.5,1055.8 481.0,1053.6 483.5,1051.4 486.0,1049.2 488.5,1046.9 491.0,1044.6 493.5,1042.4 496.0,1040.1 498.5,1037.7 501.0,1035.4 503.5,1033.1 506.0,1030.7 508.5,1028.4 511.0,1026.0 513.5,1023.6 516.0,1021.2 518.5,1018.8 521.0,1016.4 523.5,1014.0 526.0,1011.6 528.5,1009.2 531.0,1006.7 533.5,1004.3 536.0,1001.9 538.5,999.4 541.0,997.0 543.5,994.5 546.0,992.1 548.5,989.7 551.0,987.2 553.5,984.8 556.0,982.3 558.5,979.9 561.0,977.4 563.5,975.0 566.0,972.6 568.5,970.2 571.0,967.7 573.5,965.3 576.0,962.9 578.5,960.5 581.0,958.2 583.5,955.8 586.0,953.4 588.5,951.1 591.0,948.7 593.5,946.4 596.0,944.1 598.5,941.8 601.0,939.5 603.5,937.2 606.0,934.9 608.5,932.6 611.0,930.3 613.5,928.1 616.0,925.8 618.5,923.5 621.0,921.3 623.5,919.0 626.0,916.8 628.5,914.5 631.0,912.3 633.5,910.0 636.0,907.8 638.5,905.5 641.0,903.3 643.5,901.0 646.0,898.8 648.5,896.5 651.0,894.2 653.5,891.9 656.0,889.6 658.5,887.3 661.0,885.0 663.5,882.7 666.0,880.4 668.5,878.1 671.0,875.7 673.5,873.4 676.0,871.0 678.5,868.6 681.0,866.2 683.5,863.8 686.0,861.4 688.5,858.9 691.0,856.5 693.5,854.0 696.0,851.5 698.5,849.1 701.0,846.6 703.5,844.1 706.0,841.7 708.5,839.2 711.0,836.7 713.5,834.2 716.0,831.8 718.5,829.3 721.0,826.9 723.5,824.4 726.0,822.0 728.5,819.6 731.0,817.2 733.5,814.8 736.0,812.4 738.5,810.0 741.0,807.6 743.5,805.3 746.0,802.9 748.5,800.6 751.0,798.2 753.5,795.9 756.0,793.6 758.5,791.3 761.0,789.0 763.5,786.7 766.0,784.4 768.5,782.1 771.0,779.8 773.5,777.5 776.0,775.3 778.5,773.0 781.0,770.8 783.5,768.5 786.0,766.3 788.5,764.1 791.0,761.9 793.5,759.7 796.0,757.5 798.5,755.3 801.0,753.1 803.5,750.9 806.0,748.7 808.5,746.5 811.0,744.4 813.5,742.2 816.0,740.1 818.5,737.9 821.0,735.8 823.5,733.6 826.0,731.5 828.5,729.4 831.0,727.3 833.5,725.2 836.0,723.1 838.5,721.0 841.0,718.9 843.5,716.8 846.0,714.7 848.5,712.6 851.0,710.5 853.5,708.5 856.0,706.4 858.5,704.3 861.0,702.3 863.5,700.2 866.0,698.2 868.5,696.1 871.0,694.1 873.5,692.1 876.0,690.0 878.5,688.0 881.0,686.0 883.5,684.0 886.0,681.9 888.5,679.9 891.0,677.9 893.5,675.9 896.0,673.9 898.5,671.9 901.0,669.9 903.5,668.0 906.0,666.0 908.5,664.1 911.0,662.1 913.5,660.2 916.0,658.3 918.5,656.4 921.0,654.5 923.5,652.7 926.0,650.8 928.5,649.0 931.0,647.2 933.5,645.4 936.0,643.6 938.5,641.9 941.0,640.2 943.5,638.5 946.0,636.8 948.5,635.2 951.0,633.6 953.5,632.0 956.0,630.5 958.5,629.0 961.0,627.5 963.5,626.0 966.0,624.6 968.5,623.2 971.0,621.9 973.5,620.5 976.0,619.3 978.5,618.0 981.0,616.8 983.5,615.7 986.0,614.6 988.5,613.5 991.0,612.5 993.5,611.5 996.0,610.5 998.5,609.6 1001.0,608.8 1003.5,608.0 1006.0,607.3 1008.5,606.6 1011.0,605.9 1013.5,605.3 1016.0,604.8 1018.5,604.3 1021.0,603.9 1023.5,603.5 1026.0,603.2 1028.5,602.9 1031.0,602.7 1033.5,602.6 1036.0,602.6 1038.5,602.7 1041.0,603.0 1043.5,603.5 1046.0,604.1 1048.5,605.0 1051.0,606.1 1053.5,607.4 1056.0,609.0 1058.5,610.7 1061.0,612.6 1063.5,614.7 1066.0,616.9 1068.5,619.3 1071.0,621.7 1073.5,624.2 1076.0,626.9 1078.5,629.7 1081.0,632.7 1083.5,635.9 1086.0,639.3 1088.5,643.0 1091.0,646.8 1093.5,650.8 1096.0,655.0 1098.5,659.2 1101.0,663.3 1103.5,667.4 1106.0,671.4 1108.5,675.4 1111.0,679.2 1113.5,683.0 1116.0,686.6 1118.5,690.2 1121.0,693.7 1123.5,697.0 1126.0,700.3 1128.5,703.4 1131.0,706.5 1133.5,709.5 1136.0,712.3 1138.5,715.1 1141.0,717.8 1143.5,720.4 1146.0,722.9 1148.5,725.3 1151.0,727.6 1153.5,729.9 1156.0,732.0 1158.5,734.1 1161.0,736.1 1163.5,738.0 1166.0,739.8 1168.5,741.6 1171.0,743.2 1173.5,744.8 1176.0,746.4 1178.5,747.8 1181.0,749.2 1183.5,750.5 1186.0,751.7 1188.5,752.9 1191.0,754.0 1193.5,755.1 1196.0,756.1 1198.5,757.0 1201.0,757.8 1203.5,758.7 1206.0,759.4 1208.5,760.1 1211.0,760.7 1213.5,761.3 1216.0,761.8 1218.5,762.3 1221.0,762.7 1223.5,763.1 1226.0,763.4 1228.5,763.7 1231.0,764.0 1233.5,764.2 1236.0,764.3 1238.5,764.5 1241.0,764.5 1243.5,764.6 1246.0,764.6 1248.5,764.6 1251.0,764.5 1253.5,764.4 1256.0,764.3 1258.5,764.1 1261.0,763.9 1263.5,763.7 1266.0,763.5 1268.5,763.2 1271.0,762.9 1273.5,762.5 1276.0,762.2 1278.5,761.8 1281.0,761.3 1283.5,760.9 1286.0,760.4 1288.5,759.9 1291.0,759.3 1293.5,758.7 1296.0,758.1 1298.5,757.5 1301.0,756.8 1303.5,756.2 1306.0,755.4 1308.5,754.7 1311.0,753.9 1313.5,753.1 1316.0,752.3 1318.5,751.5 1321.0,750.6 1323.5,749.7 1326.0,748.8 1328.5,747.8 1331.0,746.9 1333.5,745.9 1336.0,744.9 1338.5,743.8 1341.0,742.8 1343.5,741.7 1346.0,740.6 1348.5,739.4 1351.0,738.3 1353.5,737.1 1356.0,735.9 1358.5,734.7 1361.0,733.4 1363.5,732.2 1366.0,730.9 1368.5,729.6 1371.0,728.2 1373.5,726.9 1376.0,725.5 1378.5,724.1 1381.0,722.7 1383.5,721.3 1386.0,719.9 1388.5,718.4 1391.0,716.9 1393.5,715.4 1396.0,713.9 1398.5,712.4 1401.0,710.8 1403.5,709.3 1406.0,707.7 1408.5,706.1 1411.0,704.5 1413.5,702.8 1416.0,701.2 1418.5,699.5 1421.0,697.8 1423.5,696.1 1426.0,694.4 1428.5,692.7 1431.0,691.0 1433.5,689.2 1436.0,687.4 1438.5,685.7 1441.0,683.9 1443.5,682.0 1446.0,680.2 1448.5,678.4 1451.0,676.5 1453.5,674.7 1456.0,672.8 1458.5,670.9 1461.0,669.0 1463.5,667.1 1466.0,665.2 1468.5,663.3 1471.0,661.3 1473.5,659.4 1476.0,657.4 1478.5,655.4 1481.0,653.4 1483.5,651.4 1486.0,649.4 1488.5,647.4 1491.0,645.4 1493.5,643.3 1496.0,641.3 1498.5,639.2 1501.0,637.2 1503.5,635.1 1506.0,633.0 1508.5,630.9 1511.0,628.8 1513.5,626.7 1516.0,624.6 1518.5,622.4 1521.0,620.3 1523.5,618.2 1526.0,616.0 1528.5,613.9 1531.0,611.7 1533.5,609.5 1536.0,607.4 1538.5,605.2 1541.0,603.0 1543.5,600.8 1546.0,598.6 1548.5,596.4 1551.0,594.2 1553.5,592.0 1556.0,589.7 1558.5,587.5 1561.0,585.3 1563.5,583.1 1566.0,580.8 1568.5,578.6 1571.0,576.3 1573.5,574.1 1576.0,571.8 1578.5,569.6 1581.0,567.3 1583.5,565.0 1586.0,562.8 1588.5,560.5 1591.0,558.2 1593.5,556.0 1596.0,553.7 1598.5,551.4 1601.0,549.1 1603.5,546.9 1606.0,544.6 1608.5,542.3 1611.0,540.0 1613.5,537.7 1616.0,535.4 1618.5,533.2 1621.0,530.9 1623.5,528.6 1626.0,526.3 1628.5,524.0 1631.0,521.7 1633.5,519.5 1636.0,517.2 1638.5,514.9 1641.0,512.6 1643.5,510.3 1646.0,508.0 1648.5,505.8 1651.0,503.5 1653.5,501.2 1656.0,498.9 1658.5,496.6 1661.0,494.3 1663.5,492.1 1666.0,489.8 1668.5,487.5 1671.0,485.2 1673.5,483.0 1676.0,480.7 1678.5,478.4 1681.0,476.1 1683.5,473.8 1686.0,471.6 1688.5,469.3 1691.0,467.0 1693.5,464.7 1696.0,462.5 1698.5,460.2 1701.0,457.9 1703.5,455.7 1706.0,453.4 1708.5,451.1 1711.0,448.9 1713.5,446.6 1716.0,444.3 1718.5,442.1 1721.0,439.8 1723.5,437.5 1726.0,435.3 1728.5,433.0 1731.0,430.8 1733.5,428.5 1736.0,426.2 1738.5,424.0 1741.0,421.7 1743.5,419.5 1746.0,417.2 1748.5,415.0 1751.0,412.7 1753.5,410.5 1756.0,408.2 1758.5,406.0 1761.0,403.7 1763.5,401.5 1766.0,399.3 1768.5,397.0 1771.0,394.8 1773.5,392.5 1776.0,390.3 1778.5,388.1 1781.0,385.8 1783.5,383.6 1786.0,381.4 1788.5,379.1 1791.0,376.9 1793.5,374.7 1796.0,372.5" fill="none" stroke="#0000ff" stroke-width="10.8" stroke-linejoin="round" stroke-linecap="butt"/><path d="M559.4,962.1L566.9,954.6L573.2,961.8L579.5,954.6L587.0,962.1L582.7,969.3L587.0,976.5L579.5,984.0L573.2,976.8L566.9,984.0L559.4,976.5L563.7,969.3ZM598.6,926.3L606.1,918.8L612.4,926.0L618.7,918.8L626.2,926.3L621.9,933.5L626.2,940.7L618.7,948.2L612.4,941.0L606.1,948.2L598.6,940.7L602.9,933.5ZM624.1,883.9L631.6,876.4L637.9,883.6L644.2,876.4L651.7,883.9L647.4,891.1L651.7,898.3L644.2,905.8L637.9,898.6L631.6,905.8L624.1,898.3L628.4,891.1ZM636.4,870.0L643.9,862.5L650.2,869.7L656.5,862.5L664.0,870.0L659.7,877.2L664.0,884.4L656.5,891.9L650.2,884.7L643.9,891.9L636.4,884.4L640.7,877.2ZM675.0,840.6L682.5,833.1L688.8,840.3L695.1,833.1L702.6,840.6L698.3,847.8L702.6,855.0L695.1,862.5L688.8,855.3L682.5,862.5L675.0,855.0L679.3,847.8ZM712.2,825.1L719.7,817.6L726.0,824.8L732.3,817.6L739.8,825.1L735.5,832.3L739.8,839.5L732.3,847.0L726.0,839.8L719.7,847.0L712.2,839.5L716.5,832.3ZM796.7,769.8L804.2,762.3L810.5,769.5L816.8,762.3L824.3,769.8L820.0,777.0L824.3,784.2L816.8,791.7L810.5,784.5L804.2,791.7L796.7,784.2L801.0,777.0ZM805.2,763.8L812.7,756.3L819.0,763.5L825.3,756.3L832.8,763.8L828.5,771.0L832.8,778.2L825.3,785.7L819.0,778.5L812.7,785.7L805.2,778.2L809.5,771.0ZM913.2,709.2L920.7,701.7L927.0,708.9L933.3,701.7L940.8,709.2L936.5,716.4L940.8,723.6L933.3,731.1L927.0,723.9L920.7,731.1L913.2,723.6L917.5,716.4ZM955.7,680.8L963.2,673.3L969.5,680.5L975.8,673.3L983.3,680.8L979.0,688.0L983.3,695.2L975.8,702.7L969.5,695.5L963.2,702.7L955.7,695.2L960.0,688.0ZM1031.0,673.0L1038.5,665.5L1044.8,672.7L1051.1,665.5L1058.6,673.0L1054.3,680.2L1058.6,687.4L1051.1,694.9L1044.8,687.7L1038.5,694.9L1031.0,687.4L1035.3,680.2ZM1100.1,666.8L1107.6,659.3L1113.9,666.5L1120.2,659.3L1127.7,666.8L1123.4,674.0L1127.7,681.2L1120.2,688.7L1113.9,681.5L1107.6,688.7L1100.1,681.2L1104.4,674.0ZM1189.5,672.0L1197.0,664.5L1203.3,671.7L1209.6,664.5L1217.1,672.0L1212.8,679.2L1217.1,686.4L1209.6,693.9L1203.3,686.7L1197.0,693.9L1189.5,686.4L1193.8,679.2ZM1278.0,687.5L1285.5,680.0L1291.8,687.2L1298.1,680.0L1305.6,687.5L1301.3,694.7L1305.6,701.9L1298.1,709.4L1291.8,702.2L1285.5,709.4L1278.0,701.9L1282.3,694.7ZM1356.4,689.1L1363.9,681.6L1370.2,688.8L1376.5,681.6L1384.0,689.1L1379.7,696.3L1384.0,703.5L1376.5,711.0L1370.2,703.8L1363.9,711.0L1356.4,703.5L1360.7,696.3ZM1469.2,682.4L1476.7,674.9L1483.0,682.1L1489.3,674.9L1496.8,682.4L1492.5,689.6L1496.8,696.8L1489.3,704.3L1483.0,697.1L1476.7,704.3L1469.2,696.8L1473.5,689.6ZM1543.2,620.3L1550.7,612.8L1557.0,620.0L1563.3,612.8L1570.8,620.3L1566.5,627.5L1570.8,634.7L1563.3,642.2L1557.0,635.0L1550.7,642.2L1543.2,634.7L1547.5,627.5ZM1553.7,611.3L1561.2,603.8L1567.5,611.0L1573.8,603.8L1581.3,611.3L1577.0,618.5L1581.3,625.7L1573.8,633.2L1567.5,626.0L1561.2,633.2L1553.7,625.7L1558.0,618.5ZM1595.4,570.9L1602.9,563.4L1609.2,570.6L1615.5,563.4L1623.0,570.9L1618.7,578.1L1623.0,585.3L1615.5,592.8L1609.2,585.6L1602.9,592.8L1595.4,585.3L1599.7,578.1ZM1604.8,556.4L1612.3,548.9L1618.6,556.1L1624.9,548.9L1632.4,556.4L1628.1,563.6L1632.4,570.8L1624.9,578.3L1618.6,571.1L1612.3,578.3L1604.8,570.8L1609.1,563.6ZM1625.7,523.8L1633.2,516.3L1639.5,523.5L1645.8,516.3L1653.3,523.8L1649.0,531.0L1653.3,538.2L1645.8,545.7L1639.5,538.5L1633.2,545.7L1625.7,538.2L1630.0,531.0ZM1632.2,523.8L1639.7,516.3L1646.0,523.5L1652.3,516.3L1659.8,523.8L1655.5,531.0L1659.8,538.2L1652.3,545.7L1646.0,538.5L1639.7,545.7L1632.2,538.2L1636.5,531.0ZM1687.3,447.6L1694.8,440.1L1701.1,447.3L1707.4,440.1L1714.9,447.6L1710.6,454.8L1714.9,462.0L1707.4,469.5L1701.1,462.3L1694.8,469.5L1687.3,462.0L1691.6,454.8Z" fill="#000"/><line x1="574.4" y1="270.5" x2="724.6" y2="270.5" stroke="#00ff00" stroke-width="10.5"/><line x1="574.4" y1="332.0" x2="724.6" y2="332.0" stroke="#000000" stroke-width="10.5"/><line x1="574.4" y1="393.5" x2="724.6" y2="393.5" stroke="#ff0000" stroke-width="10.5"/><line x1="574.4" y1="455.0" x2="724.6" y2="455.0" stroke="#ff00ff" stroke-width="10.5"/><line x1="574.4" y1="516.5" x2="724.6" y2="516.5" stroke="#0000ff" stroke-width="10.5"/><path d="M374,1123.4h17M1918,1123.4h-17M374,924.1h17M1918,924.1h-17M374,725.2h17M1918,725.2h-17M374,528.4h17M1918,528.4h-17M374,329.3h17M1918,329.3h-17M374,1260.5h9M1918,1260.5h-9M374,1225.9h9M1918,1225.9h-9M374,1201.4h9M1918,1201.4h-9M374,1182.4h9M1918,1182.4h-9M374,1166.9h9M1918,1166.9h-9M374,1153.8h9M1918,1153.8h-9M374,1142.4h9M1918,1142.4h-9M374,1132.4h9M1918,1132.4h-9M374,1063.4h9M1918,1063.4h-9M374,1028.3h9M1918,1028.3h-9M374,1003.4h9M1918,1003.4h-9M374,984.1h9M1918,984.1h-9M374,968.3h9M1918,968.3h-9M374,955.0h9M1918,955.0h-9M374,943.4h9M1918,943.4h-9M374,933.2h9M1918,933.2h-9M374,864.2h9M1918,864.2h-9M374,829.2h9M1918,829.2h-9M374,804.4h9M1918,804.4h-9M374,785.1h9M1918,785.1h-9M374,769.3h9M1918,769.3h-9M374,756.0h9M1918,756.0h-9M374,744.5h9M1918,744.5h-9M374,734.3h9M1918,734.3h-9M374,666.0h9M1918,666.0h-9M374,631.3h9M1918,631.3h-9M374,606.7h9M1918,606.7h-9M374,587.6h9M1918,587.6h-9M374,572.1h9M1918,572.1h-9M374,558.9h9M1918,558.9h-9M374,547.5h9M1918,547.5h-9M374,537.4h9M1918,537.4h-9M374,468.5h9M1918,468.5h-9M374,433.4h9M1918,433.4h-9M374,408.5h9M1918,408.5h-9M374,389.2h9M1918,389.2h-9M374,373.5h9M1918,373.5h-9M374,360.1h9M1918,360.1h-9M374,348.6h9M1918,348.6h-9M374,338.4h9M1918,338.4h-9M374,270.2h9M1918,270.2h-9M374,235.6h9M1918,235.6h-9M374,211.1h9M1918,211.1h-9M374,192.1h9M1918,192.1h-9M374,176.5h9M1918,176.5h-9M374,163.4h9M1918,163.4h-9M374,152.0h9M1918,152.0h-9M374,142.0h9M1918,142.0h-9M654.9,1319.5v-16M654.9,133v15M935.7,1319.5v-16M935.7,133v15M1216.6,1319.5v-16M1216.6,133v15M1497.4,1319.5v-16M1497.4,133v15M1778.3,1319.5v-16M1778.3,133v15" stroke="#262626" stroke-width="2.6" fill="none"/><line x1="1918" y1="133" x2="1918" y2="1319.5" stroke="#5a5a5a" stroke-width="2.6"/><path d="M372.7,1319.5H1919.3M372.7,133H1919.3M374,133V1319.5" stroke="#262626" stroke-width="2.6" fill="none"/><text transform="matrix(0.9134,0,0,0.5984,857.66,84.22)" font-size="100" style="font-family:'Liberation Sans',Arial,sans-serif;stroke:#fff;stroke-width:2;font-style:italic;" fill="#000">τ</text><text transform="matrix(0.5858,0,0,0.5482,890.08,117.12)" font-size="100" style="font-family:'Liberation Sans',Arial,sans-serif;" fill="#000">ig</text><text transform="matrix(1.0000,0,0,1.0000,936.54,82.50)" font-size="70.8" style="font-family:'Liberation Sans',Arial,sans-serif;" fill="#000">,</text><text transform="matrix(0.8001,0,0,0.7158,976.46,83.36)" font-size="100" style="font-family:'Liberation Serif','Times New Roman',serif;stroke:#fff;stroke-width:3;font-style:italic;" fill="#000">ϕ</text><text transform="matrix(0.7082,0,0,0.7077,1017.74,82.91)" font-size="100" style="font-family:'Liberation Sans',Arial,sans-serif;" fill="#000">=2, p=11</text><text transform="matrix(0.7082,0,0,0.7077,1316.09,82.91)" font-size="100" style="font-family:'Liberation Sans',Arial,sans-serif;" fill="#000">atm</text><text transform="matrix(0.9981,0,0,0.9848,877.60,1564.66)" font-size="100" style="font-family:'Liberation Sans',Arial,sans-serif;" fill="#262626">1000/T [1/K]</text><text transform="matrix(0.975,0,0,1,312.07,1440)" font-size="93.3" fill="#262626">0.6</text><text transform="matrix(0.975,0,0,1,592.93,1440)" font-size="93.3" fill="#262626">0.8</text><text transform="matrix(0.975,0,0,1,911.72,1440)" font-size="93.3" fill="#262626">1</text><text transform="matrix(0.975,0,0,1,1154.65,1440)" font-size="93.3" fill="#262626">1.2</text><text transform="matrix(0.975,0,0,1,1435.51,1440)" font-size="93.3" fill="#262626">1.4</text><text transform="matrix(0.975,0,0,1,1716.37,1440)" font-size="93.3" fill="#262626">1.6</text><text transform="matrix(0.8716,0,0,0.9294,183.26,1369.19)" font-size="100" style="font-family:'Liberation Sans',Arial,sans-serif;" fill="#262626">10</text><text transform="matrix(0.8561,0,0,0.8320,279.50,1327.05)" font-size="100" style="font-family:'Liberation Sans',Arial,sans-serif;" fill="#262626">-</text><text transform="matrix(0.97,0,0,1,306.12,1322.90)" font-size="73" fill="#262626">6</text><text transform="matrix(0.8716,0,0,0.9294,183.26,1173.09)" font-size="100" style="font-family:'Liberation Sans',Arial,sans-serif;" fill="#262626">10</text><text transform="matrix(0.8561,0,0,0.8320,279.50,1130.95)" font-size="100" style="font-family:'Liberation Sans',Arial,sans-serif;" fill="#262626">-</text><text transform="matrix(0.97,0,0,1,306.12,1126.80)" font-size="73" fill="#262626">5</text><text transform="matrix(0.8716,0,0,0.9294,183.26,973.79)" font-size="100" style="font-family:'Liberation Sans',Arial,sans-serif;" fill="#262626">10</text><text transform="matrix(0.8561,0,0,0.8320,279.50,931.65)" font-size="100" style="font-family:'Liberation Sans',Arial,sans-serif;" fill="#262626">-</text><text transform="matrix(0.97,0,0,1,306.12,927.50)" font-size="73" fill="#262626">4</text><text transform="matrix(0.8716,0,0,0.9294,183.26,774.89)" font-size="100" style="font-family:'Liberation Sans',Arial,sans-serif;" fill="#262626">10</text><text transform="matrix(0.8561,0,0,0.8320,279.50,732.75)" font-size="100" style="font-family:'Liberation Sans',Arial,sans-serif;" fill="#262626">-</text><text transform="matrix(0.97,0,0,1,306.12,728.60)" font-size="73" fill="#262626">3</text><text transform="matrix(0.8716,0,0,0.9294,183.26,578.09)" font-size="100" style="font-family:'Liberation Sans',Arial,sans-serif;" fill="#262626">10</text><text transform="matrix(0.8561,0,0,0.8320,279.50,535.95)" font-size="100" style="font-family:'Liberation Sans',Arial,sans-serif;" fill="#262626">-</text><text transform="matrix(0.97,0,0,1,306.12,531.80)" font-size="73" fill="#262626">2</text><text transform="matrix(0.8716,0,0,0.9294,183.26,378.99)" font-size="100" style="font-family:'Liberation Sans',Arial,sans-serif;" fill="#262626">10</text><text transform="matrix(0.8561,0,0,0.8320,279.50,336.85)" font-size="100" style="font-family:'Liberation Sans',Arial,sans-serif;" fill="#262626">-</text><text transform="matrix(0.97,0,0,1,306.12,332.70)" font-size="73" fill="#262626">1</text><text transform="matrix(0.8746,0,0,0.9294,207.14,182.69)" font-size="100" style="font-family:'Liberation Sans',Arial,sans-serif;" fill="#262626">10</text><text transform="matrix(0.97,0,0,1,306.12,136.40)" font-size="73" fill="#262626">0</text><text transform="matrix(0,-1.2530,0.8214,0,96.20,847.59)" font-size="100" style="font-family:'Liberation Sans',Arial,sans-serif;stroke:#fff;stroke-width:2;font-style:italic;" fill="#262626">τ</text><text transform="matrix(0,-0.7914,0.7917,0,146.07,802.29)" font-size="100" style="font-family:'Liberation Sans',Arial,sans-serif;" fill="#262626">ig</text><text transform="matrix(0,-1.0174,0.9580,0,95.82,711.85)" font-size="100" style="font-family:'Liberation Sans',Arial,sans-serif;" fill="#262626">[s]</text><text transform="matrix(0.9530,0,0,0.9993,737.14,290.10)" font-size="48" style="font-family:'Liberation Sans',Arial,sans-serif;font-weight:bold;" fill="#000">LLNL</text><text transform="matrix(0.9513,0,0,0.9887,736.48,349.84)" font-size="48" style="font-family:'Liberation Sans',Arial,sans-serif;font-weight:bold;" fill="#000">SD</text><text transform="matrix(0.9524,0,0,0.9644,736.66,409.45)" font-size="48" style="font-family:'Liberation Sans',Arial,sans-serif;font-weight:bold;" fill="#000">Aramco</text><text transform="matrix(0.8526,0,0,0.9963,738.06,472.60)" font-size="48" style="font-family:'Liberation Sans',Arial,sans-serif;font-weight:bold;" fill="#000">K71</text><text transform="matrix(0.9371,0,0,0.9593,736.16,532.35)" font-size="48" style="font-family:'Liberation Sans',Arial,sans-serif;font-weight:bold;" fill="#000">Z69</text></svg></body></html>
